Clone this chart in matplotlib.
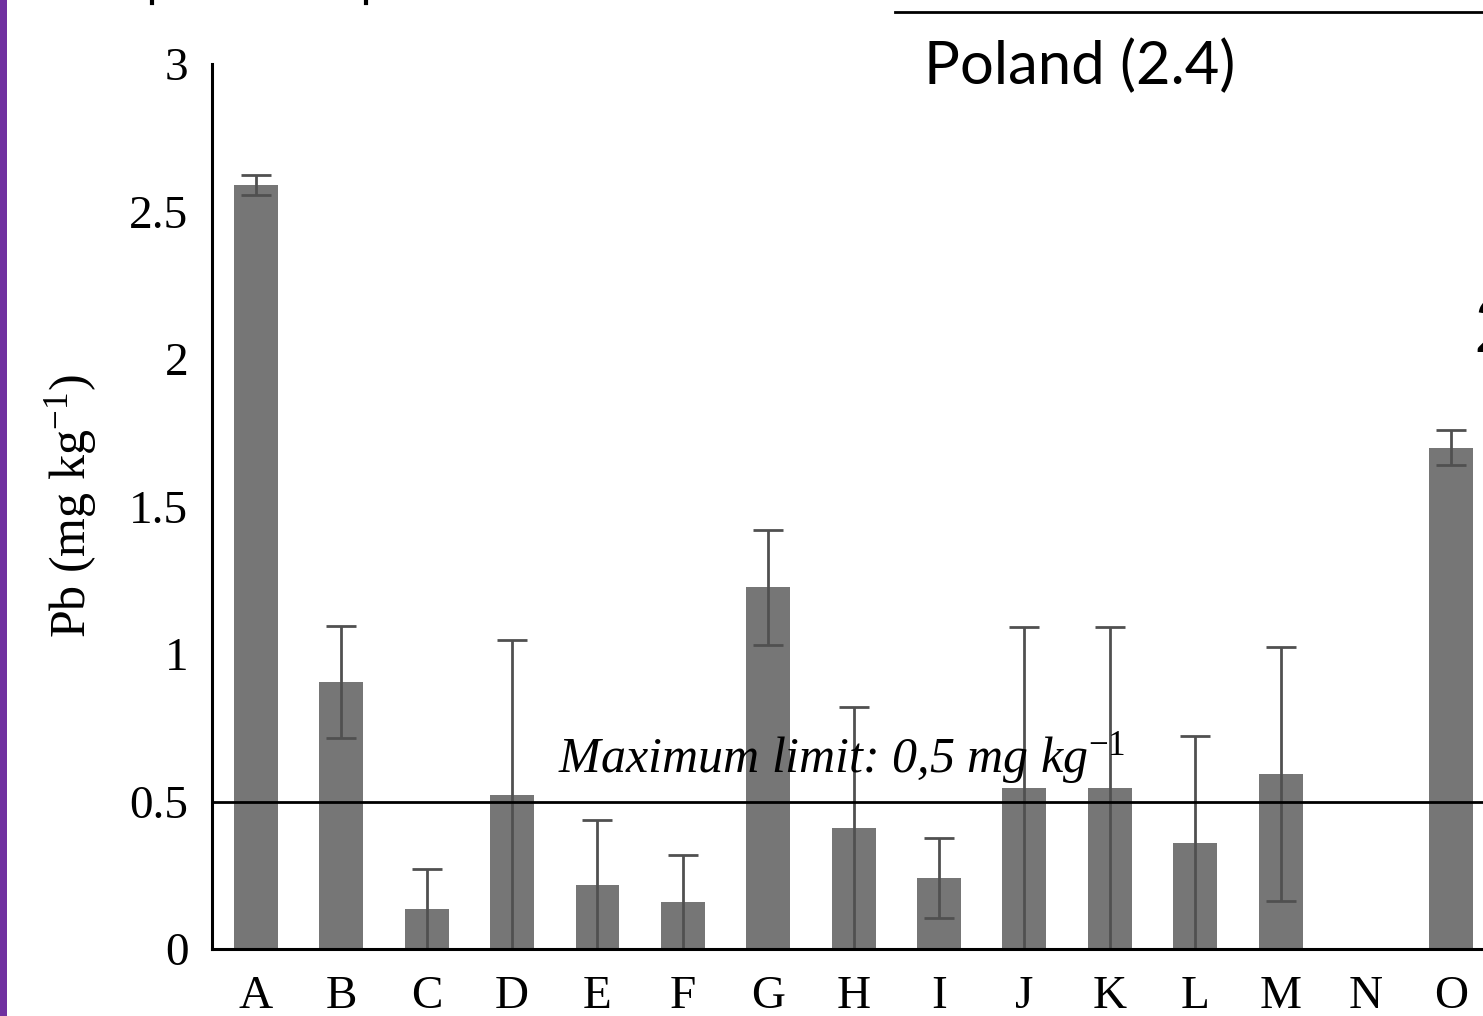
import matplotlib
matplotlib.use("Agg")
import matplotlib.pyplot as plt
from matplotlib.lines import Line2D
from matplotlib.patches import Rectangle

# Lead content per sample with standard deviation
categories = ["A", "B", "C", "D", "E", "F", "G", "H", "I", "J", "K", "L", "M", "N", "O"]
pb_mean = [2.59, 0.905, 0.136, 0.522, 0.217, 0.159, 1.227, 0.41, 0.241, 0.546, 0.546, 0.359, 0.593, 0.0, 1.70]
pb_sd = [0.035, 0.19, 0.135, 0.525, 0.22, 0.16, 0.195, 0.41, 0.136, 0.545, 0.545, 0.362, 0.43, 0.0, 0.06]
y_ticks = [0, 0.5, 1, 1.5, 2, 2.5, 3]
y_tick_labels = ["0", "0.5", "1", "1.5", "2", "2.5", "3"]
max_limit = 0.5

plt.rcParams["mathtext.fontset"] = "custom"
plt.rcParams["mathtext.rm"] = "Liberation Serif"
plt.rcParams["mathtext.it"] = "Liberation Serif:italic"

W, H = 1483, 1016
fig = plt.figure(figsize=(W / 100, H / 100), dpi=100)

# axes extends past the right edge of the slide crop
left, bottom = 212 / W, 1 - 949 / H
height = (949 - 64) / H
width = 1282 / W
ax = fig.add_axes([left, bottom, width, height])

x = list(range(len(categories)))
ax.bar(x, pb_mean, width=0.515, color="#767676", zorder=2)
ax.errorbar(x, pb_mean, yerr=pb_sd, fmt="none", ecolor="#505050",
            elinewidth=2, capsize=10.5, capthick=2, zorder=3)

ax.axhline(max_limit, color="black", lw=2, zorder=4)

ax.set_xlim(-0.515, 14.5)
ax.set_ylim(0, 3)
ax.set_xticks(x)
ax.set_xticklabels(categories, family="Liberation Serif", fontsize=34)
ax.set_yticks(y_ticks)
ax.set_yticklabels(y_tick_labels, family="Liberation Serif", fontsize=34)
ax.tick_params(axis="both", length=0)
ax.tick_params(axis="y", pad=17)
ax.tick_params(axis="x", pad=19)

for s in ["top", "right"]:
    ax.spines[s].set_visible(False)
for s in ["left", "bottom"]:
    ax.spines[s].set_linewidth(2.2)
    ax.spines[s].set_zorder(5)

ax.set_ylabel(r"Pb (mg kg$^{-1}$)", family="Liberation Serif", fontsize=36, labelpad=22)

# limit annotation
ax.text(3.54, 0.6, r"Maximum limit: 0,5 mg kg$^{\mathit{-1}}$", family="Liberation Serif",
        style="italic", fontsize=36, ha="left", va="baseline", zorder=6)

# slide elements around the chart
fig.add_artist(Rectangle((0, 0), 7 / W, 1, transform=fig.transFigure,
                         color="#7030A0", lw=0))
fig.add_artist(Line2D([895 / W, 1], [1 - 12 / H, 1 - 12 / H], transform=fig.transFigure,
                      color="black", lw=2))
fig.text(924 / W, 1 - 84 / H, "Poland (2.4)", family="Lato", fontsize=43,
         ha="left", va="baseline")
fig.text(1473 / W, 1 - 352 / H, "2", family="Lato", fontsize=55,
         ha="left", va="baseline")
fig.add_artist(Line2D([152 / W, 152 / W], [1, 1 - 3 / H], transform=fig.transFigure,
                      color="black", lw=3))
fig.add_artist(Line2D([366 / W, 366 / W], [1, 1 - 3 / H], transform=fig.transFigure,
                      color="black", lw=3))

fig.savefig("out.png", dpi=100)
